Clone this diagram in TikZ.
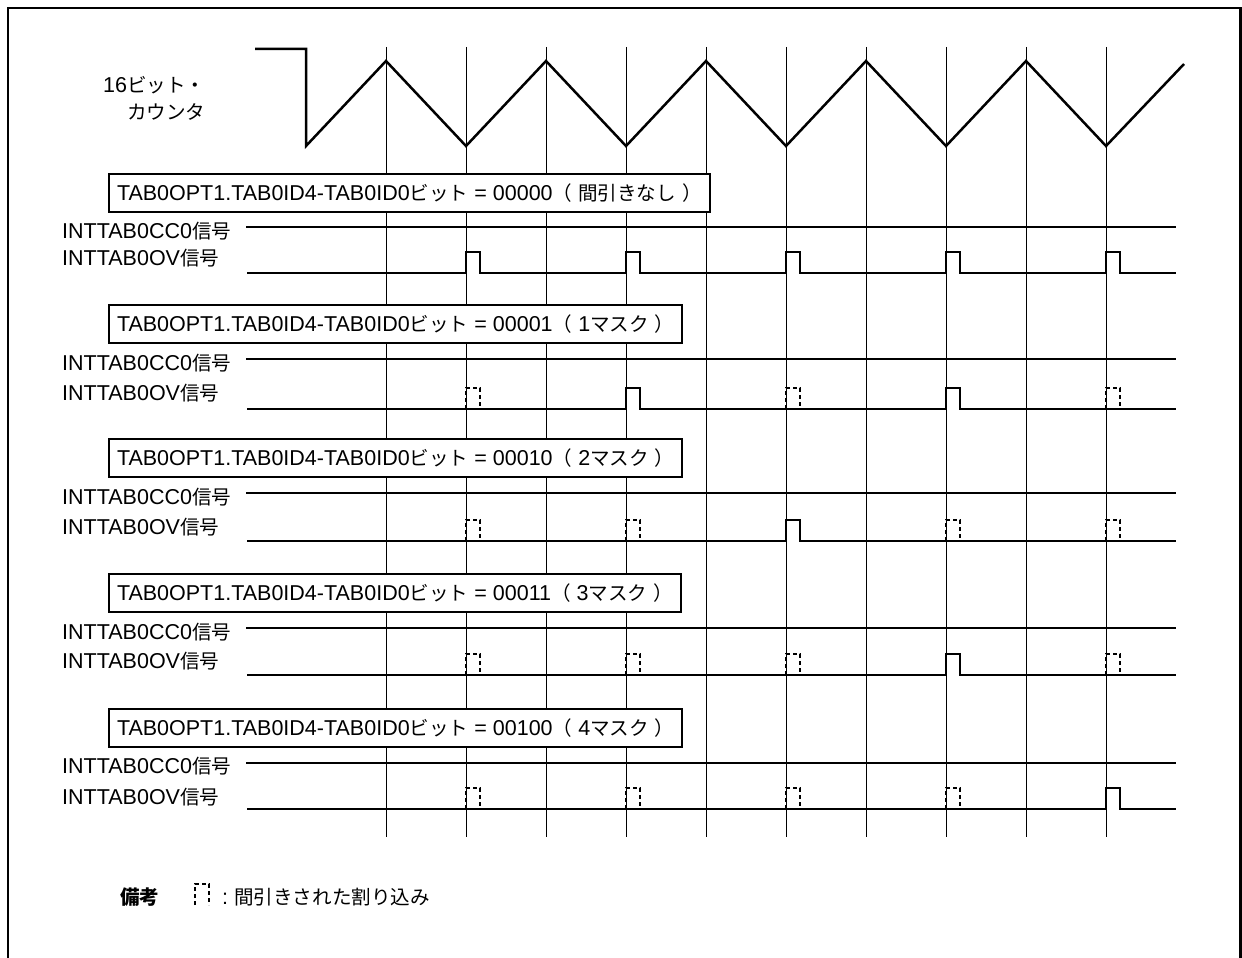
\documentclass[tikz,border=0pt]{standalone}
\usepackage{fontspec}
\setmainfont{Liberation Sans}
\newfontfamily\jp[Scale=0.91]{Noto Sans CJK JP}
\newcommand{\masked}[2]{\draw[masked] (#1,#2) -- ++(0,-21) -- ++(14,0) -- ++(0,21);}

\begin{document}
\begin{tikzpicture}[x=1pt,y=-1pt,font=\fontsize{21.5}{26}\selectfont,
        wave/.style={line width=2.5pt,line join=miter},
        sig/.style={line width=2.5pt},
        vline/.style={line width=1pt},
        masked/.style={line width=2pt,dash pattern=on 4pt off 3pt},
        optbox/.style={draw,fill=white,line width=2pt,anchor=west,inner xsep=8pt,inner ysep=0pt,minimum height=38pt,text height=15pt,text depth=0pt},
        lbl/.style={anchor=west,inner sep=0pt,text height=15pt,text depth=0pt}]
    \useasboundingbox (0,0) rectangle (1242,958);
    % frame
    \draw[line width=2.5pt] (8,958) -- (8,8) -- (1240.5,8) -- (1240.5,958);

    % timing grid
    \draw[vline] (386,47) -- (386,837); \draw[vline] (466,47) -- (466,837); \draw[vline] (546,47) -- (546,837); \draw[vline] (626,47) -- (626,837); \draw[vline] (706,47) -- (706,837);
    \draw[vline] (786,47) -- (786,837); \draw[vline] (866,47) -- (866,837); \draw[vline] (946,47) -- (946,837); \draw[vline] (1026,47) -- (1026,837); \draw[vline] (1106,47) -- (1106,837);

    % 16-bit counter
    \node[lbl] (cnt1) at (103,85) {16{\jp ビット・}};
    \node[lbl] (cnt2) at (127,112) {\jp カウンタ};
    \draw[wave] (255,49) -- (306,49) -- (306,146) -- (386,61) -- (466,146) -- (546,61) -- (626,146) -- (706,61) -- (786,146) -- (866,61) -- (946,146) -- (1026,61) -- (1106,146) -- (1184,64);

    % no masking
    \node[optbox] (opt1) at (108,193) {TAB0OPT1.TAB0ID4-TAB0ID0{\jp ビット} = 00000{\jp （}\ {\jp 間引きなし}\ {\jp ）}};
    \node[lbl] (cc1) at (62,231) {INTTAB0CC0{\jp 信号}};
    \node[lbl] (ov1) at (62,258) {INTTAB0OV{\jp 信号}};
    \draw[sig] (246,227) -- (1176,227);
    \draw[sig] (247,273) -- (466,273) -- ++(0,-21) -- ++(14,0) -- ++(0,21) -- (626,273) -- ++(0,-21) -- ++(14,0) -- ++(0,21) -- (786,273) -- ++(0,-21) -- ++(14,0) -- ++(0,21) -- (946,273) -- ++(0,-21) -- ++(14,0) -- ++(0,21) -- (1106,273) -- ++(0,-21) -- ++(14,0) -- ++(0,21) -- (1176,273);

    % 1 mask
    \node[optbox] (opt2) at (108,324) {TAB0OPT1.TAB0ID4-TAB0ID0{\jp ビット} = 00001{\jp （}\ 1{\jp マスク}\ {\jp ）}};
    \node[lbl] (cc2) at (62,363) {INTTAB0CC0{\jp 信号}};
    \node[lbl] (ov2) at (62,393) {INTTAB0OV{\jp 信号}};
    \draw[sig] (246,359) -- (1176,359);
    \draw[sig] (247,409) -- (626,409) -- ++(0,-21) -- ++(14,0) -- ++(0,21) -- (946,409) -- ++(0,-21) -- ++(14,0) -- ++(0,21) -- (1176,409);
    \masked{466}{409} \masked{786}{409} \masked{1106}{409}

    % 2 masks
    \node[optbox] (opt3) at (108,458) {TAB0OPT1.TAB0ID4-TAB0ID0{\jp ビット} = 00010{\jp （}\ 2{\jp マスク}\ {\jp ）}};
    \node[lbl] (cc3) at (62,497) {INTTAB0CC0{\jp 信号}};
    \node[lbl] (ov3) at (62,527) {INTTAB0OV{\jp 信号}};
    \draw[sig] (246,493) -- (1176,493);
    \draw[sig] (247,541) -- (786,541) -- ++(0,-21) -- ++(14,0) -- ++(0,21) -- (1176,541);
    \masked{466}{541} \masked{626}{541} \masked{946}{541} \masked{1106}{541}

    % 3 masks
    \node[optbox] (opt4) at (108,593) {TAB0OPT1.TAB0ID4-TAB0ID0{\jp ビット} = 00011{\jp （}\ 3{\jp マスク}\ {\jp ）}};
    \node[lbl] (cc4) at (62,632) {INTTAB0CC0{\jp 信号}};
    \node[lbl] (ov4) at (62,661) {INTTAB0OV{\jp 信号}};
    \draw[sig] (246,628) -- (1176,628);
    \draw[sig] (247,675) -- (946,675) -- ++(0,-21) -- ++(14,0) -- ++(0,21) -- (1176,675);
    \masked{466}{675} \masked{626}{675} \masked{786}{675} \masked{1106}{675}

    % 4 masks
    \node[optbox] (opt5) at (108,728) {TAB0OPT1.TAB0ID4-TAB0ID0{\jp ビット} = 00100{\jp （}\ 4{\jp マスク}\ {\jp ）}};
    \node[lbl] (cc5) at (62,766) {INTTAB0CC0{\jp 信号}};
    \node[lbl] (ov5) at (62,797) {INTTAB0OV{\jp 信号}};
    \draw[sig] (246,763) -- (1176,763);
    \draw[sig] (247,809) -- (1106,809) -- ++(0,-21) -- ++(14,0) -- ++(0,21) -- (1176,809);
    \masked{466}{809} \masked{626}{809} \masked{786}{809} \masked{946}{809}

    % remark
    \node[lbl] (note) at (120,897) {\jp\bfseries 備考};
    \masked{195}{905}
    \node[lbl] (notetxt) at (222,897) {:\hspace{6pt}{\jp 間引きされた割り込み}};
\end{tikzpicture}
\end{document}
